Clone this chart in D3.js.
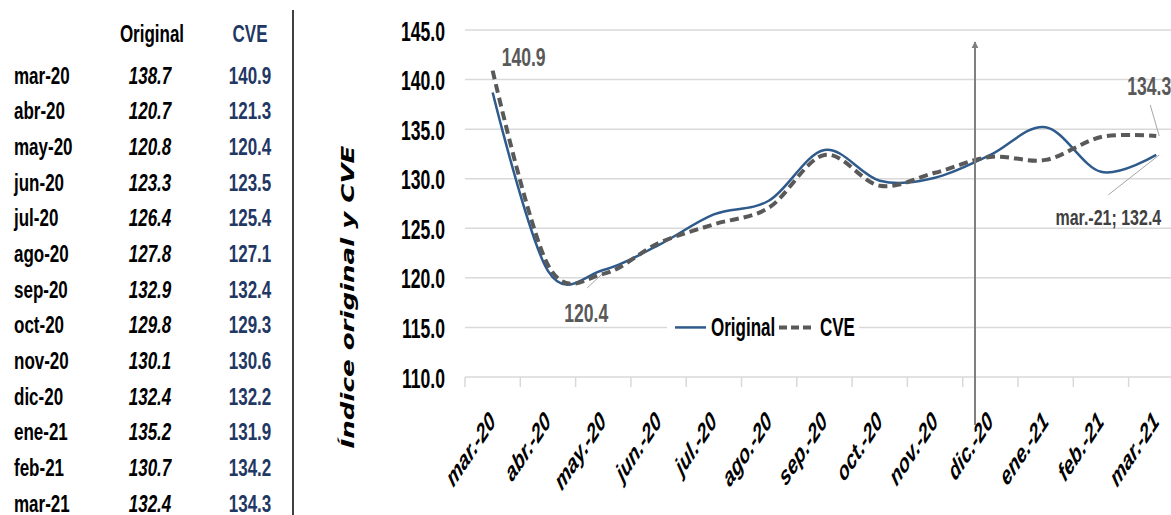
<!DOCTYPE html>
<html lang="es">
<head>
    <meta charset="UTF-8">
    <title>Índice original y CVE</title>
    <script src="https://d3js.org/d3.v7.min.js"></script>
    <style>
        body { margin: 0; background: #fff; }
        svg { display: block; }
    </style>
</head>
<body>
    <svg></svg>
    <script>
        const width = 1171;
        const height = 515;

        // datos
        const months = ['mar-20', 'abr-20', 'may-20', 'jun-20', 'jul-20', 'ago-20', 'sep-20',
                        'oct-20', 'nov-20', 'dic-20', 'ene-21', 'feb-21', 'mar-21'];
        const axisLabels = ['mar.-20', 'abr.-20', 'may.-20', 'jun.-20', 'jul.-20', 'ago.-20', 'sep.-20',
                            'oct.-20', 'nov.-20', 'dic.-20', 'ene.-21', 'feb.-21', 'mar.-21'];
        const original = [138.7, 120.7, 120.8, 123.3, 126.4, 127.8, 132.9, 129.8, 130.1, 132.4, 135.2, 130.7, 132.4];
        const cve = [140.9, 121.3, 120.4, 123.5, 125.4, 127.1, 132.4, 129.3, 130.6, 132.2, 131.9, 134.2, 134.3];
        const yTicks = [110, 115, 120, 125, 130, 135, 140, 145];

        const sans = '"Liberation Sans", Arial, sans-serif';
        const blue = '#2f5b8c';
        const gray = '#595959';
        const navy = '#1f3864';

        const svg = d3.select('svg')
            .attr('width', width)
            .attr('height', height)
            .style('font-family', sans)
            .style('font-weight', 'bold');

        // texto estirado en vertical (la imagen original viene estirada)
        function stretched(parent, x, y, k, txt) {
            return parent.append('text')
                .attr('transform', `translate(${x},${y}) scale(1,${k})`)
                .text(txt);
        }

        // tabla de la izquierda
        const rowY = d3.scalePoint().domain(months).range([75, 503]);
        const table = svg.append('g').attr('font-size', 17);
        const kt = 1.42, base = 8.6;

        stretched(table, 152, 33 + base, kt, 'Original').attr('text-anchor', 'middle').attr('fill', '#000');
        stretched(table, 250, 33 + base, kt, 'CVE').attr('text-anchor', 'middle').attr('fill', navy);

        months.forEach((m, i) => {
            stretched(table, 14, rowY(m) + base, kt, m).attr('fill', '#000');
            stretched(table, 150, rowY(m) + base, kt, original[i].toFixed(1))
                .attr('text-anchor', 'middle').attr('font-style', 'italic').attr('fill', '#000');
            stretched(table, 250, rowY(m) + base, kt, cve[i].toFixed(1))
                .attr('text-anchor', 'middle').attr('fill', navy);
        });

        svg.append('line').attr('x1', 293).attr('x2', 293).attr('y1', 10).attr('y2', height)
            .attr('stroke', '#000').attr('stroke-width', 1.5);

        // escalas del gráfico
        const x = d3.scaleBand().domain(months).range([465, 465 + 13 * 55.3]).padding(0);
        const y = d3.scaleLinear().domain([110, 145]).range([377, 30]);
        const cx = d => x(d) + x.bandwidth() / 2;

        // rejilla
        svg.append('g').selectAll('line').data(yTicks.slice(1)).enter().append('line')
            .attr('x1', 465).attr('x2', width)
            .attr('y1', d => y(d)).attr('y2', d => y(d))
            .attr('stroke', '#d9d9d9').attr('stroke-width', 1.5);

        // eje y
        const yAxis = svg.append('g')
            .attr('transform', 'translate(465,0)')
            .call(d3.axisLeft(y).tickValues(yTicks).tickSize(0).tickFormat(d3.format('.1f')));
        yAxis.select('.domain').remove();
        yAxis.selectAll('text')
            .attr('x', 0).attr('dy', 0)
            .attr('transform', 'translate(-20,10) scale(1,1.58)')
            .attr('font-family', sans).attr('font-size', 17.6).attr('font-weight', 'bold').attr('fill', '#000');

        // eje x
        const xAxis = svg.append('g')
            .attr('transform', `translate(0,${y(110)})`)
            .call(d3.axisBottom(x).tickSize(0).tickFormat((d, i) => axisLabels[i]));
        xAxis.select('.domain')
            .attr('d', `M465,0H${width}`).attr('stroke', '#d9d9d9').attr('stroke-width', 1.5);
        xAxis.selectAll('text')
            .attr('font-family', sans).attr('font-size', 17.5).attr('font-weight', 'bold')
            .attr('font-style', 'italic').attr('fill', '#000')
            .attr('text-anchor', 'end')
            .attr('y', 0).attr('dy', 0)
            .attr('transform', 'translate(4,46) scale(1,1.5) rotate(-45)');
        const edges = months.map(d => x(d)).concat([x.range()[1]]);
        xAxis.append('g').selectAll('line').data(edges).enter().append('line')
            .attr('x1', d => d).attr('x2', d => d).attr('y1', 0).attr('y2', 10)
            .attr('stroke', '#d9d9d9').attr('stroke-width', 1.5);

        // título del eje y
        svg.append('text')
            .attr('transform', 'translate(354,297) scale(1,1.45) rotate(-90)')
            .attr('text-anchor', 'middle')
            .attr('font-family', '"DejaVu Sans", sans-serif')
            .attr('font-size', 18).attr('font-style', 'italic')
            .attr('fill', '#000').text('Índice original y CVE');

        // líneas
        const line = d3.line()
            .x((d, i) => cx(months[i]))
            .y(d => y(d))
            .curve(d3.curveCardinal.tension(0));

        svg.append('path').datum(original)
            .attr('fill', 'none').attr('stroke', blue).attr('stroke-width', 2.5)
            .attr('stroke-linejoin', 'round').attr('d', line);
        svg.append('path').datum(cve)
            .attr('fill', 'none').attr('stroke', gray).attr('stroke-width', 4)
            .attr('stroke-dasharray', '9,5').attr('d', line);

        // flecha vertical
        svg.append('defs').append('marker')
            .attr('id', 'arrow').attr('viewBox', '0 0 10 10').attr('refX', 9).attr('refY', 5)
            .attr('markerWidth', 3.5).attr('markerHeight', 6).attr('orient', 'auto')
            .append('path').attr('d', 'M0,0L10,5L0,10Z').attr('fill', '#7f7f7f');
        svg.append('line')
            .attr('x1', 975).attr('x2', 975).attr('y1', 425).attr('y2', 42)
            .attr('stroke', '#7f7f7f').attr('stroke-width', 2)
            .attr('marker-end', 'url(#arrow)');

        // etiquetas de datos
        const labels = svg.append('g').attr('font-size', 17.6).attr('fill', gray);
        const first = months[0], may = months[2], last = months[12];
        const kl = 1.5;

        stretched(labels, cx(first) + 31, y(cve[0]) - 5, kl, cve[0].toFixed(1)).attr('text-anchor', 'middle');

        labels.append('line').attr('x1', cx(may) - 1).attr('y1', y(cve[2]))
            .attr('x2', cx(may) - 16).attr('y2', y(cve[2]) + 14)
            .attr('stroke', '#a6a6a6').attr('stroke-width', 1);
        stretched(labels, cx(may) - 17, y(cve[2]) + 48, kl, cve[2].toFixed(1)).attr('text-anchor', 'middle');

        labels.append('line').attr('x1', cx(last) + 3).attr('y1', y(cve[12]))
            .attr('x2', cx(last) - 6).attr('y2', y(cve[12]) - 31)
            .attr('stroke', '#a6a6a6').attr('stroke-width', 1);
        stretched(labels, cx(last) - 29, y(cve[12]) - 41, kl, cve[12].toFixed(1));

        labels.append('line').attr('x1', cx(last) + 3).attr('y1', y(original[12]))
            .attr('x2', cx(last) - 48).attr('y2', y(original[12]) + 40)
            .attr('stroke', '#a6a6a6').attr('stroke-width', 1);
        stretched(labels, cx(last) + 5, y(original[12]) + 70, 1.35, 'mar.-21; ' + original[12].toFixed(1))
            .attr('text-anchor', 'end').attr('font-size', 16).attr('fill', '#404040');

        // leyenda
        const leg = svg.append('g').attr('transform', `translate(667,${y(115)})`);
        leg.append('rect').attr('x', 0).attr('y', -14).attr('width', 192).attr('height', 28).attr('fill', '#fff');
        leg.append('line').attr('x1', 8).attr('x2', 39).attr('y1', 0).attr('y2', 0)
            .attr('stroke', blue).attr('stroke-width', 2.5);
        stretched(leg, 44, 9, 1.5, 'Original').attr('font-size', 17).attr('fill', '#000');
        leg.append('line').attr('x1', 112).attr('x2', 146).attr('y1', 0).attr('y2', 0)
            .attr('stroke', gray).attr('stroke-width', 4).attr('stroke-dasharray', '8,4');
        stretched(leg, 153, 9, 1.5, 'CVE').attr('font-size', 17).attr('fill', '#000');
    </script>
</body>
</html>
